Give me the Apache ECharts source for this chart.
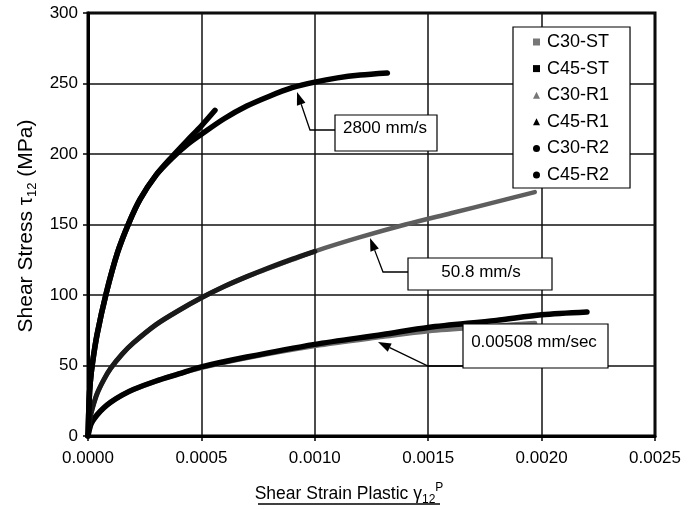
<!DOCTYPE html>
<html lang="en">
<head>
<meta charset="utf-8">
<style>
  html, body { margin: 0; padding: 0; background: #fff; }
  #main { width: 696px; height: 509px; }
</style>
</head>
<body>
<div id="main"></div>
<script src="https://cdn.jsdelivr.net/npm/echarts@6/dist/echarts.min.js"></script>
<script>
// axis ticks
const xTicks = [0, 0.0005, 0.001, 0.0015, 0.002, 0.0025];
const yTicks = [0, 50, 100, 150, 200, 250, 300];

// 0.00508 mm/sec
const c30st = [[0,0],[0.00001,7],[0.00002,10.5],[0.00004,15],[0.00007,20],[0.0001,24],[0.00015,29],[0.0002,33],[0.0003,39],[0.0004,44],[0.0005,48.5],[0.0007,55.5],[0.001,64],[0.0013,70.5],[0.0015,74.5],[0.0018,78],[0.00197,80]];
const c45st = [[0,0],[0.00001,7],[0.00002,10.5],[0.00004,15],[0.00007,20],[0.0001,24],[0.00015,29],[0.0002,33],[0.0003,39],[0.0004,44],[0.0005,49],[0.0007,56],[0.001,65],[0.0013,72],[0.0015,77],[0.0018,82],[0.002,86],[0.0022,88]];
// 50.8 mm/s
const c30r1 = [[0,0],[0.00001,13],[0.00002,20],[0.00004,30],[0.00007,40],[0.0001,48],[0.00015,58],[0.0002,66],[0.0003,79],[0.0004,89],[0.0005,98],[0.0006,106],[0.0007,113],[0.0008,119],[0.0009,125],[0.001,131],[0.0012,141],[0.0014,150],[0.0016,158],[0.0018,166],[0.00197,173]];
const c45r1 = [[0,0],[0.00001,13],[0.00002,20],[0.00004,30],[0.00007,40],[0.0001,48],[0.00015,58],[0.0002,66],[0.0003,79],[0.0004,89],[0.0005,98],[0.0006,106],[0.0007,113],[0.0008,119.5],[0.0009,125.5],[0.001,131]];
// 2800 mm/s
const c30r2 = [[0,0],[0.000005,25],[0.00001,38],[0.00002,52],[0.00004,72],[0.00008,101],[0.00013,130],[0.00018,151],[0.00023,168],[0.0003,185],[0.00037,198],[0.00044,210],[0.0005,220],[0.00056,231]];
const c45r2 = [[0,0],[0.000005,25],[0.00001,38],[0.00002,52],[0.00004,72],[0.00008,101],[0.00013,130],[0.00018,151],[0.00023,168],[0.0003,185],[0.00037,197],[0.00044,207],[0.0005,214],[0.0006,225],[0.0007,234],[0.0008,241],[0.0009,247],[0.001,251],[0.0011,254],[0.0012,256],[0.00132,257.5]];

const FONT = '"Liberation Sans", Arial, sans-serif';

var chart = echarts.init(document.getElementById('main'), null, { renderer: 'canvas' });

function line(name, data, color, width, z) {
  return {
    name: name,
    type: 'line',
    data: data,
    smooth: 0.3,
    showSymbol: false,
    symbol: 'none',
    color: color,
    lineStyle: { color: color, width: width, cap: 'round', join: 'round' },
    z: z
  };
}

// arrow: leader polyline, head at last point
function arrow(pts) {
  var a = pts[pts.length - 2], b = pts[pts.length - 1];
  var dx = b[0] - a[0], dy = b[1] - a[1];
  var len = Math.sqrt(dx * dx + dy * dy);
  var ux = dx / len, uy = dy / len;
  var hl = 13, hw = 4.5;
  var bx = b[0] - ux * hl, by = b[1] - uy * hl;
  return [
    { type: 'polyline', z: 100, shape: { points: pts.slice(0, -1).concat([[bx, by]]) }, style: { stroke: '#000', lineWidth: 1.3, fill: null } },
    { type: 'polygon', z: 100, shape: { points: [b, [bx - uy * hw, by + ux * hw], [bx + uy * hw, by - ux * hw]] }, style: { fill: '#000' } }
  ];
}

function label(x, y, w, h, text, tx, ty) {
  return [
    { type: 'rect', z: 100, shape: { x: x, y: y, width: w, height: h }, style: { fill: '#fff', stroke: '#000', lineWidth: 1.2 } },
    { type: 'text', z: 101, x: tx, y: ty, style: { text: text, font: '17px ' + FONT, fill: '#000', align: 'center', verticalAlign: 'middle' } }
  ];
}

var graphics = []
  .concat(arrow([[335, 130], [310, 130], [297, 92]]))
  .concat(label(335, 115, 102, 36, '2800 mm/s', 385, 128))
  .concat(arrow([[408, 272], [383, 272], [370, 238]]))
  .concat(label(408, 258, 144, 32, '50.8 mm/s', 481, 272))
  .concat(arrow([[463, 366], [428, 366], [378, 342]]))
  .concat(label(463, 324, 145, 44, '0.00508 mm/sec', 534, 342))
  .concat([
    {
      type: 'text', x: 26, y: 226, rotation: Math.PI / 2,
      style: {
        text: '{a|Shear Stress τ}{s|12}{a| (MPa)}',
        align: 'center', verticalAlign: 'middle', fill: '#000',
        rich: {
          a: { fontSize: 21, fontFamily: FONT, lineHeight: 26, verticalAlign: 'middle' },
          s: { fontSize: 13, fontFamily: FONT, lineHeight: 15, verticalAlign: 'bottom' }
        }
      }
    },
    {
      type: 'text', x: 349, y: 494,
      style: {
        text: '{a|Shear Strain Plastic γ}{s|12}{p|P}',
        align: 'center', verticalAlign: 'middle', fill: '#000',
        rich: {
          a: { fontSize: 17.5, fontFamily: FONT, lineHeight: 24, verticalAlign: 'middle' },
          s: { fontSize: 12, fontFamily: FONT, lineHeight: 13, verticalAlign: 'bottom' },
          p: { fontSize: 12, fontFamily: FONT, lineHeight: 13, verticalAlign: 'top' }
        }
      }
    },
    { type: 'line', shape: { x1: 258, y1: 504, x2: 440, y2: 504 }, style: { stroke: '#000', lineWidth: 1.5 } }
  ]);

var option = {
  animation: false,
  backgroundColor: '#fff',
  grid: { left: 88, right: 41, top: 13, bottom: 73, show: true, borderColor: '#000', borderWidth: 3 },
  legend: {
    orient: 'vertical',
    left: 513, top: 27,
    padding: [6, 21, 4, 20],
    itemGap: 8.6,
    itemWidth: 7, itemHeight: 7,
    backgroundColor: '#fff',
    borderColor: '#000', borderWidth: 1.2,
    textStyle: { fontSize: 18, fontFamily: FONT, color: '#000', padding: [0, 0, 0, 2] },
    data: [
      { name: 'C30-ST', icon: 'rect', itemStyle: { color: '#777' } },
      { name: 'C45-ST', icon: 'rect', itemStyle: { color: '#000' } },
      { name: 'C30-R1', icon: 'triangle', itemStyle: { color: '#777' } },
      { name: 'C45-R1', icon: 'triangle', itemStyle: { color: '#000' } },
      { name: 'C30-R2', icon: 'circle', itemStyle: { color: '#000' } },
      { name: 'C45-R2', icon: 'circle', itemStyle: { color: '#000' } }
    ],
    z: 50
  },
  xAxis: {
    type: 'value', min: xTicks[0], max: xTicks[xTicks.length - 1], interval: 0.0005,
    axisLine: { show: true, lineStyle: { color: '#000', width: 3 } },
    axisTick: { show: true, length: 5, lineStyle: { color: '#000', width: 1.5 } },
    axisLabel: { fontSize: 17, fontFamily: FONT, color: '#000', margin: 14, formatter: function (v) { return v.toFixed(4); } },
    splitLine: { show: true, lineStyle: { color: '#111', width: 1.5 } }
  },
  yAxis: {
    type: 'value', min: yTicks[0], max: yTicks[yTicks.length - 1], interval: 50,
    axisLine: { show: true, lineStyle: { color: '#000', width: 3 } },
    axisTick: { show: true, length: 5, lineStyle: { color: '#000', width: 1.5 } },
    axisLabel: { fontSize: 17, fontFamily: FONT, color: '#000', margin: 10 },
    splitLine: { show: true, lineStyle: { color: '#111', width: 1.5 } }
  },
  series: [
    line('C30-ST', c30st, '#6e6e6e', 5, 2),
    line('C45-ST', c45st, '#000', 5.5, 3),
    line('C30-R1', c30r1, '#5e5e5e', 4.5, 2),
    line('C45-R1', c45r1, '#1a1a1a', 5, 3),
    line('C45-R2', c45r2, '#000', 5.5, 3),
    line('C30-R2', c30r2, '#000', 5.5, 3)
  ],
  graphic: graphics
};

chart.setOption(option);
</script>
</body>
</html>
